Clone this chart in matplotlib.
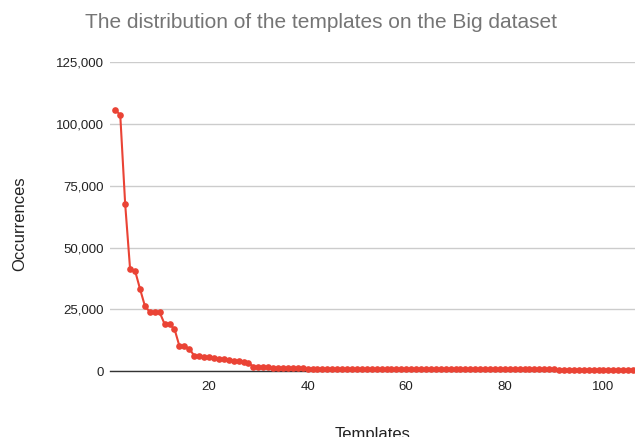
import matplotlib
matplotlib.use("Agg")
import matplotlib.pyplot as plt
from matplotlib.ticker import FuncFormatter

plt.rcParams['font.family'] = ['Liberation Sans', 'DejaVu Sans']

title = "The distribution of the templates on the Big dataset"
x_label = "Templates"
y_label = "Occurrences"

head_values = [105800, 103600, 67500, 41100, 40600, 33300, 26300, 23900, 23800, 23700,
               19000, 18900, 17000, 10100, 10000, 9000, 6200, 6000, 5700, 5500,
               5300, 5050, 4800, 4550, 4250, 3950, 3650, 3250, 1800, 1600,
               1500, 1420, 1350, 1290, 1230, 1180, 1130, 1080, 1040, 1000]
tail_values = [970, 940, 920, 900, 880, 860, 850, 840, 830, 820,
               810, 800, 795, 790, 785, 780, 775, 770, 765, 760,
               755, 750, 745, 740, 735, 730, 725, 720, 715, 710,
               705, 700, 695, 690, 685, 680, 675, 670, 665, 660,
               655, 650, 645, 640, 635, 630, 625, 620, 615, 610,
               605, 600, 595, 590, 585, 580, 575, 570, 565, 560,
               555, 550, 545, 540, 535, 530]
occurrences = head_values + tail_values
templates = list(range(1, len(occurrences) + 1))

y_ticks = [0, 25000, 50000, 75000, 100000, 125000]
x_ticks = [20, 40, 60, 80, 100]

fig = plt.figure(figsize=(6.35, 4.37), dpi=100)
ax = fig.add_axes([110.4 / 635, 66 / 437, 524.6 / 635, 308.7 / 437])

ax.plot(templates, occurrences, color='#EA4335', linewidth=1.5, marker='o',
        markersize=4.8, markeredgewidth=0, clip_on=False, zorder=3)

ax.set_xlim(0, 106.4)
ax.set_ylim(0, 125000)
ax.set_yticks(y_ticks)
ax.set_xticks(x_ticks)
ax.yaxis.set_major_formatter(FuncFormatter(lambda v, p: f"{int(v):,}"))
ax.grid(axis='y', color='#cccccc', linewidth=1)
ax.set_axisbelow(True)
for s in ['top', 'right', 'left']:
    ax.spines[s].set_visible(False)
ax.spines['bottom'].set_color('#333333')
ax.spines['bottom'].set_linewidth(1)
ax.spines['bottom'].set_zorder(2)
ax.tick_params(axis='both', length=0, labelsize=9.5, colors='#222222')
ax.tick_params(axis='y', pad=5)
ax.tick_params(axis='x', pad=7.5)

ax.set_xlabel(x_label, fontsize=12, color='#222222', labelpad=24)
ax.set_ylabel(y_label, fontsize=12, color='#222222', labelpad=20)
ax.yaxis.label.set_y(0.476)

fig.text(0.505, 1 - 22 / 437, title, ha='center', va='center', fontsize=15, color='#757575')

fig.savefig("out.png", dpi=100)
